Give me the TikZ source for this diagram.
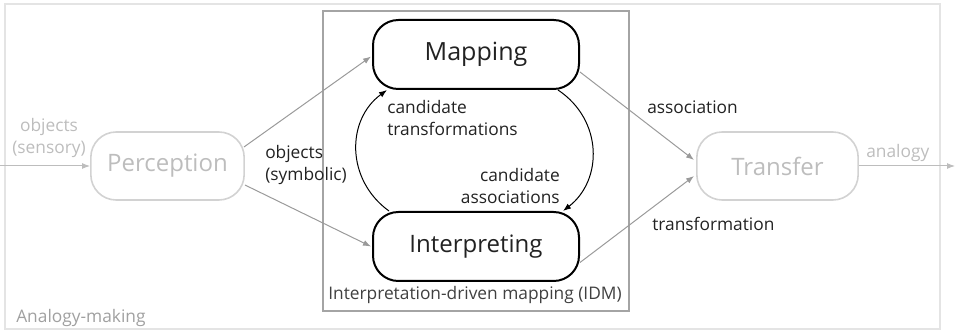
\documentclass[tikz,border=0pt]{standalone}
\usepackage{fontspec}
\setmainfont{Open Sans}
\usetikzlibrary{arrows.meta,calc}

\definecolor{framegray}{HTML}{E4E4E4}
\definecolor{idmgray}{HTML}{A4A4A4}
\definecolor{fadeline}{HTML}{D2D2D2}
\definecolor{fadetext}{HTML}{BDBDBD}
\definecolor{arrowgray}{HTML}{9A9A9A}
\definecolor{labelgray}{HTML}{A0A0A0}
\definecolor{inkdark}{HTML}{222222}

\tikzset{
  stage/.style={draw, rounded corners=19pt, line width=1.5pt,
    minimum width=154.5pt, minimum height=51.75pt, inner sep=0pt,
    font=\fontsize{18}{22}\selectfont, text=inkdark},
  faded/.style={stage, draw=fadeline, text=fadetext, line width=1.2pt},
  flow/.style={draw=arrowgray, line width=0.75pt,
    -{Latex[length=6pt,width=4.5pt]}},
  loop/.style={draw=black, line width=0.75pt,
    -{Latex[length=6pt,width=4.5pt]}},
  small/.style={font=\fontsize{13}{16.5}\selectfont, inner sep=0pt, text=inkdark},
}

\begin{document}
\begin{tikzpicture}[x=0.75pt,y=-0.75pt]
\useasboundingbox (0,0) rectangle (960,331);

% enclosing frames
\draw[framegray, line width=1.5pt] (5,4) rectangle (940,329);
\draw[idmgray, line width=1.5pt] (323,11) rectangle (629,311);

% stages
\node[stage, font=\fontsize{18.8}{22}\selectfont] (map) at (476,54.5) {Mapping};
\node[stage] (interp) at (476,246.5) {Interpreting};
\node[faded, minimum width=115pt, minimum height=51pt] (perc) at (167.5,166) {Perception};
\node[faded, minimum width=121pt, minimum height=51pt] (trans) at (777.5,166) {Transfer};

% loose ends of the input and output arrows
\coordinate (in) at (0,166);
\coordinate (out) at (955,166);

% arrows
\draw[flow, draw=fadetext] (in) -- (perc.west);
\draw[flow, draw=fadetext] (trans.east) -- (out);
\draw[flow] ($(perc.east)+(-1,-19)$) -- ($(map.west)+(-1,2)$);
\draw[flow] ($(perc.east)+(0,19)$) -- ($(interp.west)+(-1,0)$);
\draw[flow] ($(map.east)+(0,17.5)$) -- ($(trans.west)+(-2,-6)$);
\draw[flow] ($(interp.east)+(0,16)$) -- ($(trans.west)+(-2,10)$);

% feedback loop between interpreting and mapping
\draw[loop] ($(interp.north west)+(17,0)$) .. controls (346,180) and (346,120) .. ($(map.south west)+(15,0)$);
\draw[loop] ($(map.south east)+(-22,0)$) .. controls (603,120) and (603,180) .. ($(interp.north east)+(-17,0)$);

% labels
\node[small, text=fadetext, align=center] (lsens) at (49,137.5) {objects\\(sensory)};
\node[small, align=left, anchor=west] (lsym) at (265,165) {objects\\(symbolic)};
\node[small, align=left, anchor=west] (lctr) at (387,118) {candidate\\transformations};
\node[small, align=right, anchor=east] (lcas) at (560,186) {candidate\\associations};
\node[small, anchor=west] (lass) at (647,107) {association};
\node[small, anchor=west] (ltra) at (652,224) {transformation};
\node[small, text=fadetext, anchor=west] (lana) at (866,153) {analogy};
\node[small, text=black!75] (lidm) at (475,295) {Interpretation-driven mapping (IDM)};
\node[small, text=labelgray, anchor=west] (lam) at (16,318) {Analogy-making};
\end{tikzpicture}
\end{document}
